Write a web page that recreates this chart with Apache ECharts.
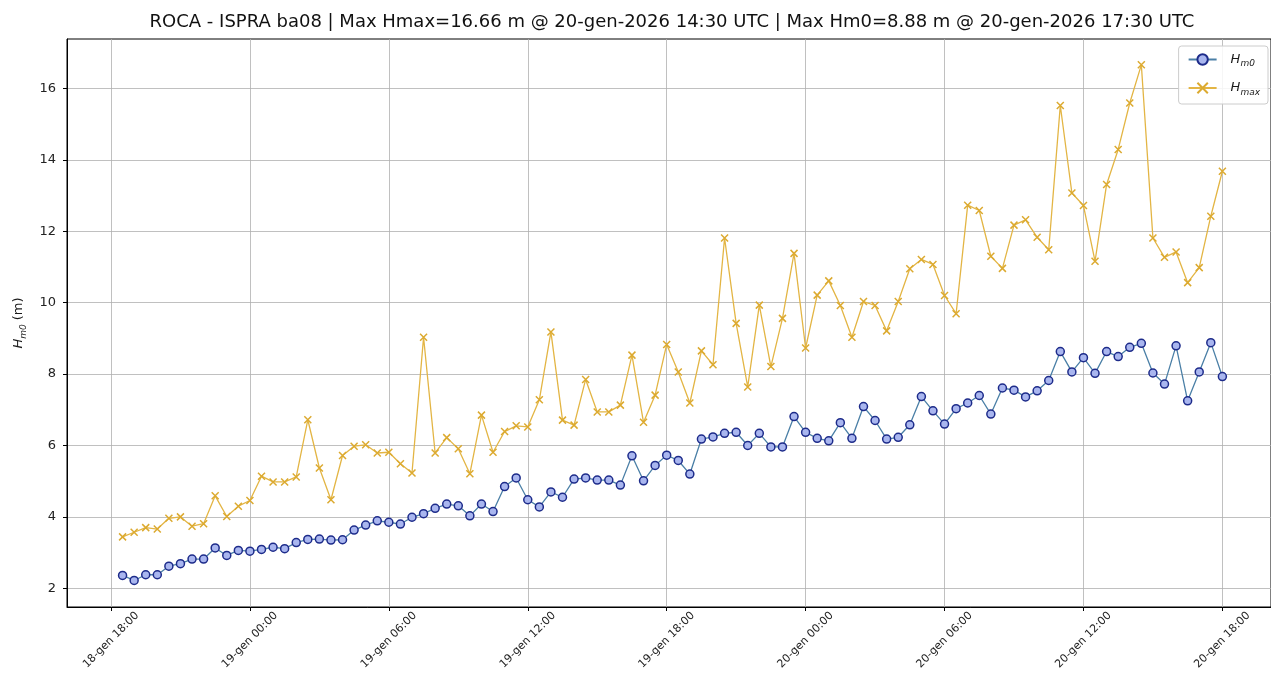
<!DOCTYPE html>
<html>
<head>
<meta charset="utf-8">
<script src="https://cdn.jsdelivr.net/npm/echarts@6/dist/echarts.min.js"></script>
<style>
html,body{margin:0;padding:0;background:#fff}
#chart{width:1271px;height:681px}
</style>
</head>
<body>
<div id="chart"></div>
<script>
// ---- data ----
const chartTitle = 'ROCA - ISPRA ba08 | Max Hmax=16.66 m @ 20-gen-2026 14:30 UTC | Max Hm0=8.88 m @ 20-gen-2026 17:30 UTC';
// sampling: first record 18-gen-2026 18:30 UTC, every 30 minutes (hours counted from 18-gen 00:00)
const firstSampleHour = 18.5;
const sampleStepHours = 0.5;

const hm0 = [2.36,2.22,2.38,2.38,2.62,2.69,2.82,2.82,3.13,2.92,3.06,3.04,
3.09,3.15,3.11,3.28,3.37,3.38,3.35,3.36,3.63,3.77,3.89,3.85,
3.80,3.99,4.09,4.24,4.36,4.31,4.03,4.36,4.15,4.85,5.09,4.48,
4.28,4.70,4.55,5.06,5.09,5.03,5.03,4.89,5.71,5.01,5.44,5.73,
5.58,5.20,6.18,6.24,6.34,6.37,6.00,6.34,5.96,5.96,6.81,6.37,
6.20,6.13,6.64,6.20,7.09,6.70,6.18,6.23,6.58,7.37,6.97,6.60,
7.03,7.19,7.40,6.88,7.61,7.55,7.36,7.53,7.82,8.63,8.06,8.46,
8.02,8.63,8.49,8.75,8.86,8.03,7.72,8.79,7.25,8.06,8.88,7.93];

const hmax = [3.44,3.57,3.70,3.66,3.96,4.00,3.74,3.81,4.59,4.01,4.30,4.46,
5.14,4.98,4.98,5.12,6.72,5.37,4.48,5.72,5.98,6.02,5.79,5.81,
5.49,5.23,9.03,5.79,6.22,5.91,5.21,6.85,5.81,6.39,6.55,6.52,
7.28,9.18,6.71,6.57,7.85,6.94,6.94,7.13,8.53,6.65,7.41,8.83,
8.06,7.19,8.65,8.26,11.81,9.42,7.64,9.93,8.21,9.56,11.38,8.73,
10.21,10.61,9.92,9.03,10.03,9.92,9.21,10.03,10.95,11.21,11.07,10.20,
9.69,12.73,12.58,11.30,10.96,12.17,12.32,11.83,11.48,15.52,13.07,12.72,
11.16,13.31,14.29,15.59,16.66,11.81,11.27,11.42,10.56,10.98,12.42,13.68];

const xTickHours = [18,24,30,36,42,48,54,60,66];
const xTickLabels = ['18-gen 18:00','19-gen 00:00','19-gen 06:00','19-gen 12:00','19-gen 18:00',
                     '20-gen 00:00','20-gen 06:00','20-gen 12:00','20-gen 18:00'];
const yTicks = [2,4,6,8,10,12,14,16];

// ---- chart ----
const FONT = '"DejaVu Sans", sans-serif';
const toPairs = arr => arr.map((v, i) => [firstSampleHour + sampleStepHours * i, v]);

const richSub = {
  i: {fontStyle: 'italic', fontSize: 13, fontFamily: FONT, color: '#1a1a1a', lineHeight: 18},
  s: {fontStyle: 'italic', fontSize: 9, fontFamily: FONT, color: '#1a1a1a', verticalAlign: 'bottom'},
  n: {fontSize: 13, fontFamily: FONT, color: '#1a1a1a', lineHeight: 18}
};

const chart = echarts.init(document.getElementById('chart'), null, {renderer: 'canvas'});
chart.setOption({
  animation: false,
  backgroundColor: '#ffffff',
  textStyle: {fontFamily: FONT},
  graphic: [{
    type: 'text', x: 672, y: 22, z: 10,
    style: {text: chartTitle, font: '18px ' + FONT, fill: '#111', align: 'center', verticalAlign: 'middle'}
  }],
  grid: {left: 67, top: 39, right: 0, bottom: 74, show: true, borderColor: '#000', borderWidth: 1},
  legend: {
    right: 3, top: 46, orient: 'vertical',
    itemWidth: 28, itemHeight: 13, itemGap: 13,
    padding: [7, 8, 7, 9],
    backgroundColor: 'rgba(255,255,255,0.85)', borderColor: '#cccccc', borderWidth: 1, borderRadius: 3,
    data: ['Hm0', 'Hmax'],
    formatter: n => n === 'Hm0' ? '{i|H}{s|m0}' : '{i|H}{s|max}',
    textStyle: {padding: [0, 0, 0, 9], rich: richSub}
  },
  xAxis: {
    type: 'value', min: 16.1, max: 68.1,
    axisLine: {show: true, onZero: false, lineStyle: {color: '#000', width: 1}},
    axisTick: {show: true, customValues: xTickHours, length: 4, lineStyle: {color: '#000'}},
    axisLabel: {
      customValues: xTickHours,
      formatter: v => xTickLabels[xTickHours.indexOf(v)] || '',
      rotate: 45, align: 'center', verticalAlign: 'middle', margin: 33,
      fontSize: 11, color: '#222', fontFamily: FONT
    },
    splitLine: {show: true, lineStyle: {color: '#b0b0b0', width: 0.8}}
  },
  yAxis: {
    type: 'value', min: 1.477, max: 17.383,
    name: '{i|H}{s|m0}{n| (m)}', nameLocation: 'middle', nameRotate: 90, nameGap: 39,
    nameTextStyle: {rich: richSub},
    axisLine: {show: true, lineStyle: {color: '#000', width: 1}},
    axisTick: {show: true, customValues: yTicks, length: 4, lineStyle: {color: '#000'}},
    axisLabel: {customValues: yTicks, margin: 11, fontSize: 13, color: '#222', fontFamily: FONT},
    splitLine: {show: true, lineStyle: {color: '#b0b0b0', width: 0.8}}
  },
  series: [
    {
      name: 'Hm0', type: 'line', data: toPairs(hm0),
      symbol: 'circle', symbolSize: 8, showSymbol: true,
      lineStyle: {color: '#4a7fa6', width: 1.3},
      itemStyle: {color: '#a9b6ef', borderColor: '#1d2b8a', borderWidth: 1.5}
    },
    {
      name: 'Hmax', type: 'line', data: toPairs(hmax),
      symbol: 'path://M0,0L10,10M10,0L0,10', symbolSize: 7, showSymbol: true,
      lineStyle: {color: '#e3b544', width: 1.3},
      itemStyle: {color: '#dcaa30', borderColor: '#dcaa30', borderWidth: 1.5}
    }
  ]
});
</script>
</body>
</html>
